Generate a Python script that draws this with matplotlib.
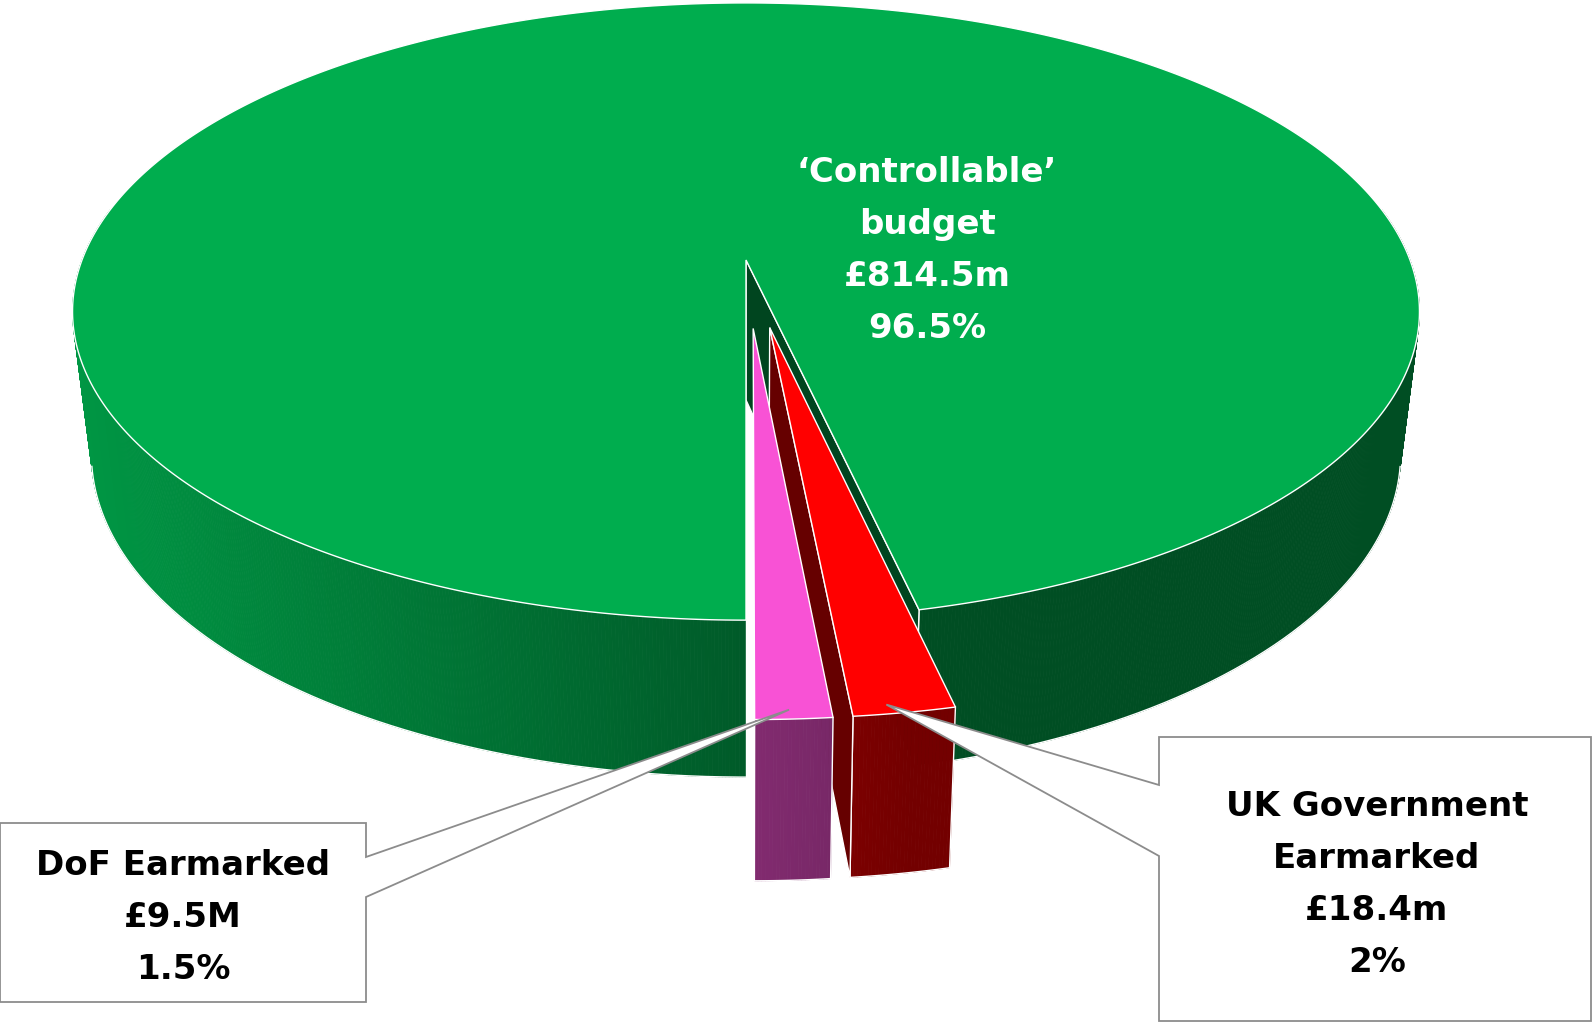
import numpy as np
import matplotlib.pyplot as plt
import matplotlib.colors as mcolors
from matplotlib.patches import Polygon
from matplotlib.collections import PolyCollection

# data
names = ["‘Controllable’\nbudget", "DoF Earmarked", "UK Government\nEarmarked"]
amounts = ["£814.5m", "£9.5M", "£18.4m"]
shares = [96.5, 1.5, 2.0]
explode = [0.0, 0.22, 0.22]
colors = ["#00AD4E", "#F852D5", "#FF0000"]

plt.rcParams['font.family'] = ['DejaVu Sans']

# projection of the tilted pie (pixel space, y down)
CX, CY = 746, 260
A, B, K = 664, 300, 0.167
D0, KD, SHRINK = 140, 0.108, 0.972
SIL = np.degrees(np.arcsin(K))  # where the wall turns away from the viewer


def proj(X, Z, bottom=False):
    X = np.asarray(X, float)
    Z = np.asarray(Z, float)
    s = 1 + K * Z
    u = A * X / s
    v = B * Z / s
    if bottom:
        return CX + SHRINK * u, CY - v + D0 / (1 + KD * Z)
    return CX + u, CY - v


def shade(deg):
    return 0.45 + 0.42 * np.clip(np.cos(np.radians(deg - 190)), 0, None)


def tint(col, f):
    return tuple(np.clip(np.array(mcolors.to_rgb(col)) * f, 0, 1))


fig = plt.figure(figsize=(15.93, 10.23), dpi=100)
ax = fig.add_axes([0, 0, 1, 1])
ax.set_xlim(0, 1593)
ax.set_ylim(1023, 0)
ax.axis('off')

# slice angles, counter-clockwise from straight down
order = [1, 2, 0]
angles = {}
a = -90.0
for i in order:
    span = shares[i] / sum(shares) * 360
    angles[i] = (a, a + span)
    a += span

offsets = {}
for i in range(3):
    mid = np.radians(sum(angles[i]) / 2)
    offsets[i] = (explode[i] * np.cos(mid), explode[i] * np.sin(mid))

edge = dict(edgecolor='white', linewidth=1.0)
draw_order = sorted(range(3), key=lambda i: (explode[i], -abs(sum(angles[i]) / 2 + 90)))
z = 1
for i in draw_order:
    a0, a1 = angles[i]
    ox, oz = offsets[i]
    # outer wall, front part (a bit past the silhouette, the top hides the rest)
    for w0, w1 in [(-190, 10), (170, 370)]:
        s0, s1 = max(a0, w0), min(a1, w1)
        if s1 <= s0:
            continue
        n = max(int((s1 - s0) * 4), 4)
        th = np.linspace(s0, s1, n + 1)
        X = ox + np.cos(np.radians(th))
        Z = oz + np.sin(np.radians(th))
        xt, yt = proj(X, Z)
        xb, yb = proj(X, Z, True)
        quads = [[(xt[j], yt[j]), (xt[j + 1], yt[j + 1]), (xb[j + 1], yb[j + 1]), (xb[j], yb[j])]
                 for j in range(n)]
        cols = [tint(colors[i], shade((th[j] + th[j + 1]) / 2)) for j in range(n)]
        ax.add_collection(PolyCollection(quads, facecolors=cols, edgecolors=cols,
                                         linewidths=0.6, zorder=z))
        # white rim along the bottom, only where it is seen
        lo, hi = w0 + 12 + SIL, w1 - 12 - SIL
        front = (th >= lo) & (th <= hi)
        ax.plot(xb[front], yb[front], color='white', lw=1.0, zorder=z + 0.1)
        for s in (s0, s1):
            if s in (a0, a1):
                k = 0 if s == s0 else -1
                ax.plot([xt[k], xb[k]], [yt[k], yb[k]], color='white', lw=1.0, zorder=z + 0.1)
    z += 1
    # cut faces that look toward the viewer
    for b, sign in [(a0, 1), (a1, -1)]:
        rb = np.radians(b)
        nx, nz = sign * np.sin(rb), -sign * np.cos(rb)
        px, pz = ox + 0.5 * np.cos(rb), oz + 0.5 * np.sin(rb)
        if nx * (0 - px) + nz * (-4 - pz) <= 0.05:
            continue
        X = [ox, ox + np.cos(rb)]
        Z = [oz, oz + np.sin(rb)]
        xt, yt = proj(X, Z)
        xb, yb = proj(X, Z, True)
        face = [(xt[0], yt[0]), (xt[1], yt[1]), (xb[1], yb[1]), (xb[0], yb[0])]
        ax.add_patch(Polygon(face, closed=True, facecolor=tint(colors[i], 0.4), zorder=z, **edge))
    z += 1
    # top face
    th = np.radians(np.linspace(a0, a1, max(int((a1 - a0) * 2), 4) + 1))
    xt, yt = proj(np.r_[ox, ox + np.cos(th)], np.r_[oz, oz + np.sin(th)])
    ax.add_patch(Polygon(np.c_[xt, yt], closed=True, facecolor=colors[i], zorder=z, **edge))
    z += 1


def tip(i, frac, r=0.98):
    a0, a1 = angles[i]
    t = np.radians(a0 + frac * (a1 - a0))
    ox, oz = offsets[i]
    x, y = proj(ox + r * np.cos(t), oz + r * np.sin(t))
    return float(x), float(y)


def pct(v):
    return f"{v:g}%"


LINE = 52
FS = 24.5

# data label on the big slice
lines = names[0].split("\n") + [amounts[0], pct(shares[0])]
for j, t in enumerate(lines):
    ax.text(927, 182 + j * LINE, t, color='white', fontsize=FS, fontweight='bold',
            ha='center', va='baseline', zorder=20)

# callouts
grey = '#8C8C8C'
tx, ty = tip(1, 0.45)
box1 = [(0, 823), (366, 823), (366, 857), (tx, ty), (366, 897), (366, 1002), (0, 1002)]
ax.add_patch(Polygon(box1, closed=True, facecolor='white', edgecolor=grey, lw=1.3, zorder=30))
lines = names[1].split("\n") + [amounts[1], pct(shares[1])]
for j, t in enumerate(lines):
    ax.text(183, 875 + j * LINE, t, color='black', fontsize=FS, fontweight='bold',
            ha='center', va='baseline', zorder=31)

tx, ty = tip(2, 0.35)
box2 = [(1159, 737), (1591, 737), (1591, 1021), (1159, 1021), (1159, 856), (tx, ty), (1159, 785)]
ax.add_patch(Polygon(box2, closed=True, facecolor='white', edgecolor=grey, lw=1.3, zorder=30))
lines = names[2].split("\n") + [amounts[2], pct(shares[2])]
for j, t in enumerate(lines):
    ax.text(1377, 816 + j * LINE, t, color='black', fontsize=FS, fontweight='bold',
            ha='center', va='baseline', zorder=31)

fig.savefig("out.png", dpi=100, facecolor='white')
